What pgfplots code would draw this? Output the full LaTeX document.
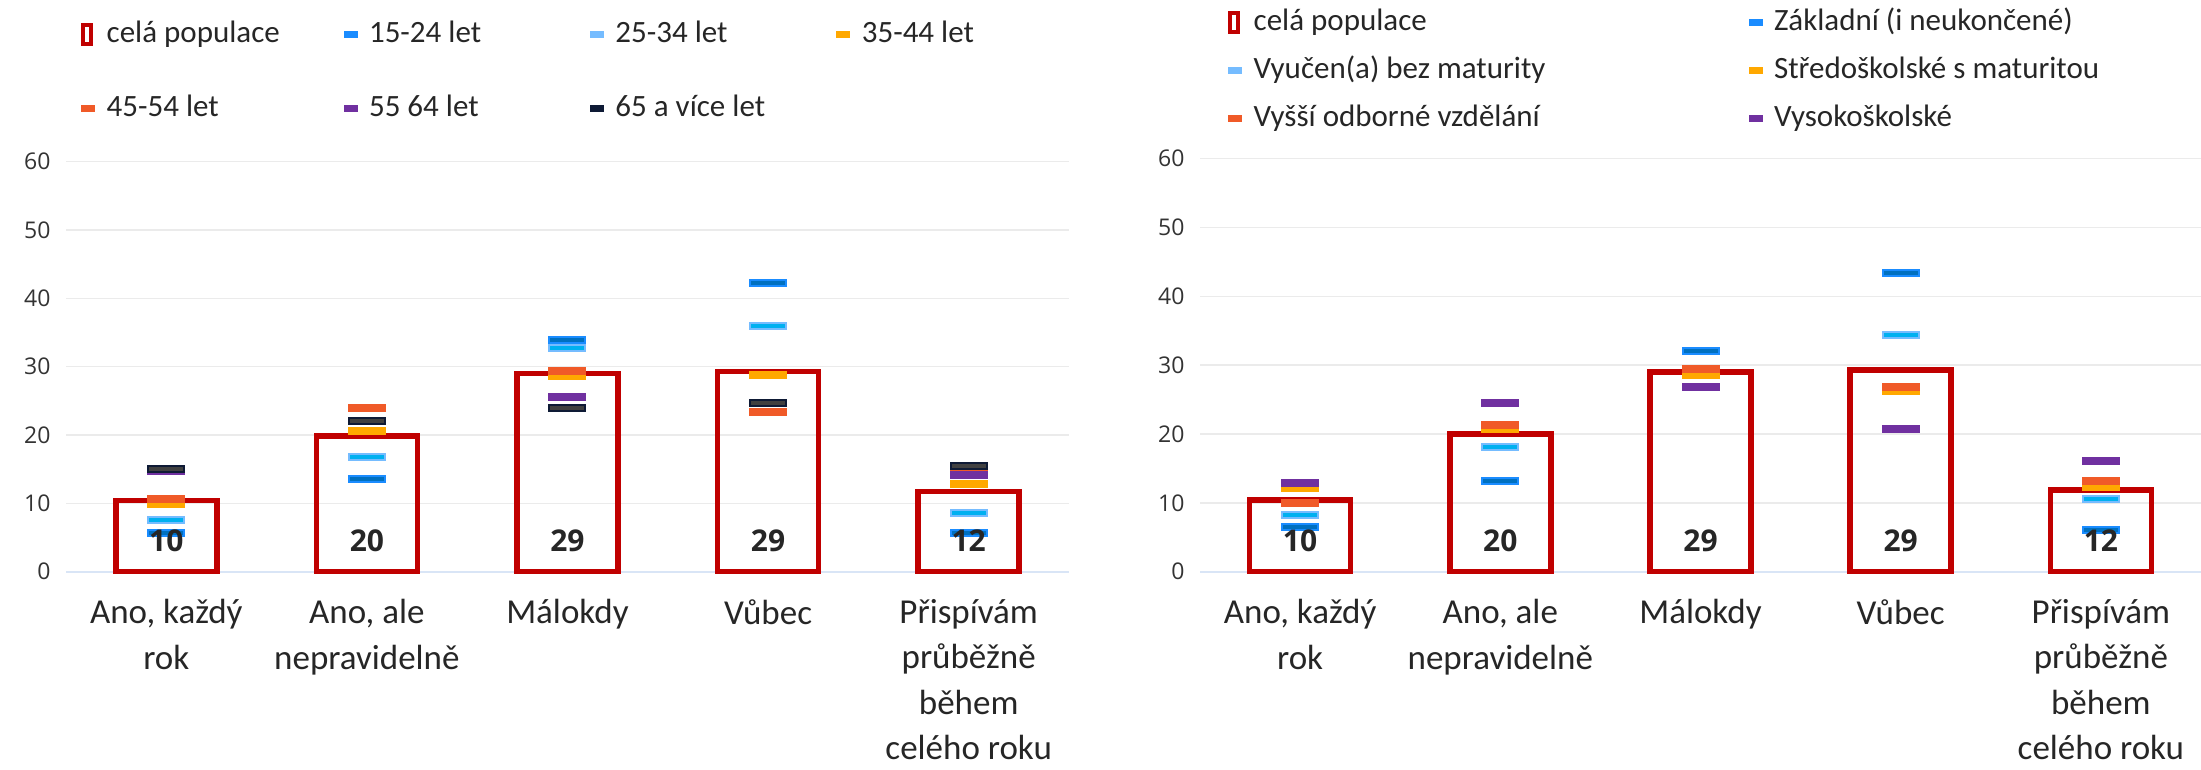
\documentclass[border=0pt]{standalone}
\usepackage{fontspec}
\setmainfont{Carlito}
\newfontfamily\numfont{Open Sans}
\usepackage{pgfplots}
\pgfplotsset{compat=1.18}

\definecolor{barred}{HTML}{C00000}
\definecolor{gridc}{HTML}{EBEBEB}
\definecolor{axc}{HTML}{D9E5F6}
\definecolor{txt}{HTML}{262626}
\definecolor{tickc}{HTML}{333333}
\definecolor{c1f}{HTML}{0070C0}\definecolor{c1d}{HTML}{1A8CFF}
\definecolor{c2f}{HTML}{00B0F0}\definecolor{c2d}{HTML}{75BCFF}
\definecolor{c3}{HTML}{FFA800}
\definecolor{c4}{HTML}{F05A28}
\definecolor{c5}{HTML}{7030A0}
\definecolor{c6f}{HTML}{404040}\definecolor{c6d}{HTML}{0E1A35}

\pgfdeclareplotmark{hdash}{\pgfpathrectangle{\pgfpoint{-18pt}{-3pt}}{\pgfpoint{36pt}{6pt}}\pgfusepathqfillstroke}

\pgfplotsset{
  panel/.style={
    scale only axis, xmin=-0.5, xmax=4.5, ymin=0, ymax=60,
    ytick={0,10,...,60}, xtick={0,...,4},
    xticklabels={{Ano, každý\\rok},{Ano, ale\\nepravidelně},{Málokdy},{Vůbec},{Přispívám\\průběžně\\během\\celého roku}},
    axis lines*=left, y axis line style={draw=none},
    x axis line style={draw=axc, line width=2pt},
    major tick length=0pt, ymajorgrids, grid style={draw=gridc, line width=1.5pt},
    clip=false,
    /pgf/number format/assume math mode=true,
    yticklabel style={font=\numfont\fontsize{23}{23}\selectfont, text=tickc, xshift=-12pt},
    xticklabel style={font=\fontsize{35}{45.5}\selectfont, text=txt, align=center, anchor=north, yshift=-24pt},
    legend cell align=left,
    legend style={draw=none, fill=none, inner sep=0pt, anchor=north west,
      font=\fontsize{31}{31}\selectfont, text=txt,
      nodes={inner sep=2pt, text height=24pt, text depth=7pt},
      /tikz/every odd column/.append style={column sep=10pt}},
  },
  bars/.style={ybar, bar width=101pt, draw=barred, fill=none, line width=5.5pt,
    legend image code/.code={\draw[barred, line width=4pt] (2pt,-9.5pt) rectangle (10pt,9.5pt);}},
  mk/.style 2 args={only marks, mark=hdash, mark options={fill=#1, draw=#2, line width=2pt},
    legend image code/.code={\fill[#2] (0pt,-3pt) rectangle (13pt,3pt);}},
  lbl/.style={forget plot, draw=none, mark=none, nodes near coords, point meta=explicit symbolic,
    nodes near coords style={anchor=center, font=\numfont\bfseries\fontsize{30}{30}\selectfont, text=txt}},
}

\begin{document}
\begin{tikzpicture}[x=1pt,y=1pt]
\useasboundingbox (0,0) rectangle (2201,770);
% ---------- left panel: age ----------
\begin{axis}[panel, at={(66pt,198.3pt)}, anchor=south west, width=1003pt, height=410pt,
  legend columns=4,
  legend style={at={(axis description cs:0.015,1)}, yshift=145pt, row sep=39pt}]
\addplot[bars] coordinates {(0,10.4) (1,19.85) (2,29.0) (3,29.3) (4,11.7)};
\addlegendentry{\makebox[235pt][l]{celá populace}}
\addplot[mk={c1f}{c1d}] coordinates {(0,5.7) (1,13.6) (2,33.9) (3,42.3) (4,5.7)};
\addlegendentry{\makebox[219pt][l]{15-24 let}}
\addplot[mk={c2f}{c2d}] coordinates {(0,7.5) (1,16.8) (2,32.8) (3,35.9) (4,8.6)};
\addlegendentry{\makebox[219pt][l]{25-34 let}}
\addplot[mk={c3}{c3}] coordinates {(0,9.9) (1,20.6) (2,28.6) (3,28.8) (4,12.8)};
\addlegendentry{\makebox[219pt][l]{35-44 let}}
\addplot[mk={c4}{c4}] coordinates {(0,10.6) (1,23.9) (2,29.4) (3,23.3) (4,14.8)};
\addlegendentry{\makebox[235pt][l]{45-54 let}}
\addplot[mk={c5}{c5}] coordinates {(0,14.8) (1,22.1) (2,25.6) (3,24.7) (4,14.2)};
\addlegendentry{\makebox[219pt][l]{55 64 let}}
\addplot[mk={c6f}{c6d}] coordinates {(0,15.0) (1,22.1) (2,23.9) (3,24.7) (4,15.4)};
\addlegendentry{\makebox[219pt][l]{65 a více let}}
\addplot[lbl] coordinates {(0,4.5)[10] (1,4.5)[20] (2,4.5)[29] (3,4.5)[29] (4,4.5)[12]};
\end{axis}
% ---------- right panel: education ----------
\begin{axis}[panel, at={(1200pt,198.3pt)}, anchor=south west, width=1001pt, height=413pt,
  legend columns=2,
  legend style={at={(axis description cs:0.028,1)}, yshift=154pt, row sep=13pt}]
\addplot[bars] coordinates {(0,10.4) (1,20.0) (2,29.0) (3,29.3) (4,11.9)};
\addlegendentry{\makebox[493pt][l]{celá populace}}
\addplot[mk={c1f}{c1d}] coordinates {(0,6.5) (1,13.2) (2,32.1) (3,43.4) (4,6.0)};
\addlegendentry{\makebox[493pt][l]{Základní (i neukončené)}}
\addplot[mk={c2f}{c2d}] coordinates {(0,8.3) (1,18.1) (2,29.0) (3,34.4) (4,10.5)};
\addlegendentry{\makebox[493pt][l]{Vyučen(a) bez maturity}}
\addplot[mk={c3}{c3}] coordinates {(0,12.1) (1,20.8) (2,28.6) (3,26.3) (4,12.3)};
\addlegendentry{\makebox[493pt][l]{Středoškolské s maturitou}}
\addplot[mk={c4}{c4}] coordinates {(0,10.0) (1,21.3) (2,29.5) (3,26.8) (4,13.2)};
\addlegendentry{\makebox[493pt][l]{Vyšší odborné vzdělání}}
\addplot[mk={c5}{c5}] coordinates {(0,12.9) (1,24.5) (2,26.9) (3,20.8) (4,16.1)};
\addlegendentry{\makebox[493pt][l]{Vysokoškolské}}
\addplot[lbl] coordinates {(0,4.5)[10] (1,4.5)[20] (2,4.5)[29] (3,4.5)[29] (4,4.5)[12]};
\end{axis}
\end{tikzpicture}
\end{document}
